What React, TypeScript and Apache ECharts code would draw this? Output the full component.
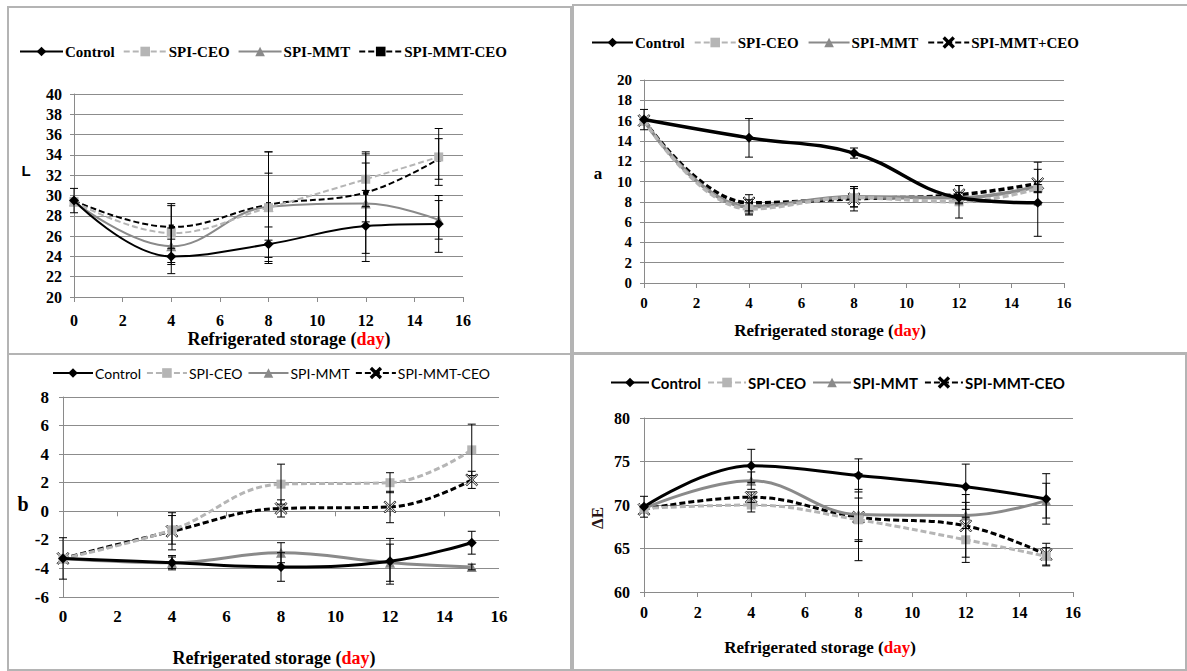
import React, { useEffect, useRef } from "react";
import * as echarts from "echarts";

// ---------- data ----------
const DAYS = [0, 4, 8, 12, 15];
const NAMES_1 = ["Control", "SPI-CEO", "SPI-MMT", "SPI-MMT-CEO"];
const NAMES_2 = ["Control", "SPI-CEO", "SPI-MMT", "SPI-MMT+CEO"];

// L
const L_CONTROL = [29.5, 24.0, 25.2, 27.0, 27.2];
const L_CONTROL_ERR = [1.2, 1.7, 1.7, 3.5, 2.8];
const L_CEO = [29.4, 26.3, 28.8, 31.6, 33.8];
const L_CEO_ERR = [0, 2.9, 5.5, 2.7, 2.8];
const L_MMT = [29.4, 25.0, 28.9, 29.2, 27.6];
const L_MMT_ERR = [0, 1.8, 3.3, 4.9, 1.9];
const L_MMTCEO = [29.5, 26.9, 29.1, 30.3, 33.6];
const L_MMTCEO_ERR = [0, 2.1, 5.2, 2.9, 2.0];

// a
const A_CONTROL = [16.1, 14.3, 12.8, 8.4, 7.9];
const A_CONTROL_ERR = [1.0, 1.9, 0.5, 0, 3.3];
const A_CEO = [16.0, 7.3, 8.4, 8.0, 9.3];
const A_CEO_ERR = [0, 0.6, 0.9, 1.6, 0.4];
const A_MMT = [16.0, 7.5, 8.5, 8.4, 9.5];
const A_MMT_ERR = [0, 0.7, 1.0, 0.5, 0.5];
const A_MMTCEO = [16.0, 7.9, 8.3, 8.7, 9.8];
const A_MMTCEO_ERR = [0, 0.8, 1.2, 0.9, 2.1];

// b
const B_CONTROL = [-3.3, -3.6, -3.9, -3.5, -2.2];
const B_CONTROL_ERR = [1.45, 0.5, 1.0, 1.6, 0.8];
const B_CEO = [-3.3, -1.3, 1.9, 2.0, 4.3];
const B_CEO_ERR = [0, 1.0, 1.4, 0.7, 1.8];
const B_MMT = [-3.3, -3.6, -2.9, -3.6, -3.9];
const B_MMT_ERR = [0, 0.4, 0.7, 1.3, 0.2];
const B_MMTCEO = [-3.3, -1.4, 0.2, 0.3, 2.2];
const B_MMTCEO_ERR = [0, 1.3, 0.6, 1.1, 0.6];

// ΔE
const E_CONTROL = [69.8, 74.5, 73.4, 72.1, 70.7];
const E_CONTROL_ERR = [1.2, 1.9, 1.9, 2.6, 2.9];
const E_CEO = [69.6, 70.0, 68.3, 66.0, 64.1];
const E_CEO_ERR = [0, 0.8, 2.5, 2.6, 1.0];
const E_MMT = [69.6, 72.8, 68.9, 68.8, 70.5];
const E_MMT_ERR = [0, 1.0, 2.9, 1.5, 2.0];
const E_MMTCEO = [69.5, 70.9, 68.6, 67.6, 64.3];
const E_MMTCEO_ERR = [0, 0.6, 5.0, 3.6, 1.3];

// ---------- styles ----------
const SERIF = "'Liberation Serif', 'Times New Roman', serif";
const SANS = "Lato, 'Liberation Sans', sans-serif";
const X_SYMBOL =
  "path://M1,0 L5,4 L9,0 L10,1 L6,5 L10,9 L9,10 L5,6 L1,10 L0,9 L4,5 L0,1 Z";

function styleOf(i: number, panel: number) {
  if (i === 0)
    return { color: "#000", symbol: "diamond", size: 10, fill: "#000", dashed: false };
  if (i === 1)
    return { color: "#b5b5b5", symbol: "rect", size: 9, fill: "#b5b5b5", dashed: true };
  if (i === 2)
    return { color: "#8a8a8a", symbol: "triangle", size: 10, fill: "#8a8a8a", dashed: false };
  if (panel === 1)
    return { color: "#000", symbol: "rect", size: 5, fill: "#000", dashed: true };
  return { color: "#000", symbol: X_SYMBOL, size: 12, fill: "#e0e0e0", dashed: true };
}

const renderErr = (params: any, api: any) => {
  const x = api.value(0);
  const lo = api.coord([x, api.value(1)]);
  const hi = api.coord([x, api.value(2)]);
  const cw = 4;
  const st = { stroke: "#000", lineWidth: 1 };
  return {
    type: "group",
    children: [
      { type: "line", shape: { x1: lo[0], y1: lo[1], x2: hi[0], y2: hi[1] }, style: st },
      { type: "line", shape: { x1: hi[0] - cw, y1: hi[1], x2: hi[0] + cw, y2: hi[1] }, style: st },
      { type: "line", shape: { x1: lo[0] - cw, y1: lo[1], x2: lo[0] + cw, y2: lo[1] }, style: st },
    ],
  };
};

function buildOption(p: any) {
  const series: any[] = [];
  const errData: any[] = [];
  p.values.forEach((vals: number[], i: number) => {
    const s = styleOf(i, p.id);
    series.push({
      type: "line",
      name: p.names[i],
      data: DAYS.map((d, j) => [d, vals[j]]),
      smooth: 0.4,
      symbol: s.symbol,
      symbolSize: s.size,
      showAllSymbol: true,
      lineStyle: { color: s.color, width: p.lineWidth, type: s.dashed ? [6, 3] : "solid" },
      itemStyle: {
        color: s.fill,
        borderColor: s.symbol === X_SYMBOL ? "#000" : s.fill,
        borderWidth: s.symbol === X_SYMBOL ? 0.8 : 0,
      },
      z: 3 + (3 - i),
    });
    p.errors[i].forEach((e: number, j: number) => {
      if (e > 0) errData.push([DAYS[j], vals[j] - e, vals[j] + e]);
    });
  });
  series.push({
    type: "custom",
    name: "errors",
    data: errData,
    renderItem: renderErr,
    encode: { x: 0, y: [1, 2] },
    z: 10,
    silent: true,
  });

  const xAxisBase = {
    type: "value",
    min: 0,
    max: 16,
    interval: 2,
    splitLine: { show: false },
  };
  const labelStyle = {
    fontFamily: SERIF, fontWeight: "bold", fontSize: p.tickFont, color: "#000",
  };
  const xAxes: any[] = [];
  if (p.zeroAxis) {
    xAxes.push({
      ...xAxisBase,
      position: "bottom",
      axisLine: { show: false, onZero: false },
      axisTick: { show: false },
      axisLabel: { ...labelStyle, margin: p.xMargin },
    });
    xAxes.push({
      ...xAxisBase,
      position: "bottom",
      axisLine: { show: true, onZero: true, lineStyle: { color: "#8a8a8a", width: 1 } },
      axisTick: { show: true, length: 5, lineStyle: { color: "#8a8a8a" } },
      axisLabel: { show: false },
    });
  } else {
    xAxes.push({
      ...xAxisBase,
      axisLine: { show: true, onZero: false, lineStyle: { color: "#8a8a8a", width: 1 } },
      axisTick: { show: true, length: 5, lineStyle: { color: "#8a8a8a" } },
      axisLabel: { ...labelStyle, margin: p.xMargin },
    });
  }

  return {
    animation: false,
    backgroundColor: "transparent",
    grid: { left: p.grid[0], top: p.grid[1], width: p.grid[2], height: p.grid[3], containLabel: false },
    legend: {
      data: p.names,
      left: p.legend[0],
      top: p.legend[1],
      padding: 0,
      itemWidth: p.legendItemW,
      itemHeight: 12,
      itemGap: p.legendGap,
      selectedMode: false,
      textStyle: {
        fontFamily: p.legendFont,
        fontWeight: p.legendWeight,
        fontSize: p.legendSize,
        color: "#000",
        padding: [0, 0, 0, -3],
      },
    },
    xAxis: xAxes,
    yAxis: {
      type: "value",
      min: p.yMin,
      max: p.yMax,
      interval: p.yStep,
      axisLine: { show: true, lineStyle: { color: "#8a8a8a", width: 1 } },
      axisTick: { show: true, length: 4, lineStyle: { color: "#8a8a8a" } },
      splitLine: { show: true, lineStyle: { color: "#8c8c8c", width: 1 } },
      axisLabel: { ...labelStyle, margin: p.yMargin },
    },
    graphic: [
      {
        type: "text",
        x: p.title[0],
        y: p.title[1],
        style: {
          text: "{a|Refrigerated storage (}{r|day}{a|)}",
          align: "center",
          verticalAlign: "middle",
          rich: {
            a: { fontFamily: SERIF, fontWeight: "bold", fontSize: p.titleSize, fill: "#000" },
            r: { fontFamily: SERIF, fontWeight: "bold", fontSize: p.titleSize, fill: "#ff0000" },
          },
        },
      },
      {
        type: "text",
        x: p.yName[0],
        y: p.yName[1],
        rotation: p.yNameRot || 0,
        style: {
          text: p.yNameText,
          align: "center",
          verticalAlign: "middle",
          fontFamily: p.yNameFont,
          fontWeight: "bold",
          fontSize: p.yNameSize,
          fill: p.yNameColor || "#000",
        },
      },
    ],
    series,
  };
}

const PANELS = [
  {
    id: 1,
    box: [8, 7, 563, 347],
    border: { left: 7, top: 6, width: 565, height: 349 },
    names: NAMES_1,
    values: [L_CONTROL, L_CEO, L_MMT, L_MMTCEO],
    errors: [L_CONTROL_ERR, L_CEO_ERR, L_MMT_ERR, L_MMTCEO_ERR],
    grid: [66, 87, 389, 203],
    yMin: 20, yMax: 40, yStep: 2,
    lineWidth: 2,
    tickFont: 16, xMargin: 15, yMargin: 12,
    legend: [11, 37], legendItemW: 43, legendGap: 8,
    legendFont: SERIF, legendWeight: "bold", legendSize: 15,
    title: [281, 332], titleSize: 18,
    yName: [18, 163], yNameText: "L", yNameFont: "'Liberation Sans', sans-serif", yNameSize: 15,
  },
  {
    id: 2,
    box: [573, 6, 614, 347],
    border: { left: 572, top: 4, width: 620, height: 350 },
    names: NAMES_2,
    values: [A_CONTROL, A_CEO, A_MMT, A_MMTCEO],
    errors: [A_CONTROL_ERR, A_CEO_ERR, A_MMT_ERR, A_MMTCEO_ERR],
    grid: [71, 74, 420, 203],
    yMin: 0, yMax: 20, yStep: 2,
    lineWidth: 3.5,
    tickFont: 15, xMargin: 12, yMargin: 12,
    legend: [18, 29], legendItemW: 41, legendGap: 9,
    legendFont: SERIF, legendWeight: "bold", legendSize: 15,
    title: [257, 324], titleSize: 17,
    yName: [25, 167], yNameText: "a", yNameFont: SERIF, yNameSize: 17,
  },
  {
    id: 3,
    box: [8, 355, 563, 316],
    border: { left: 7, top: 353, width: 565, height: 318 },
    names: NAMES_1,
    values: [B_CONTROL, B_CEO, B_MMT, B_MMTCEO],
    errors: [B_CONTROL_ERR, B_CEO_ERR, B_MMT_ERR, B_MMTCEO_ERR],
    grid: [55, 42, 436, 200],
    yMin: -6, yMax: 8, yStep: 2,
    lineWidth: 3,
    zeroAxis: true,
    tickFont: 17, xMargin: 11, yMargin: 14,
    legend: [44, 11], legendItemW: 40, legendGap: 5,
    legendFont: SANS, legendWeight: "normal", legendSize: 14,
    title: [266, 303], titleSize: 18,
    yName: [15, 149], yNameText: "b", yNameFont: SERIF, yNameSize: 20,
  },
  {
    id: 4,
    box: [573, 355, 614, 316],
    border: { left: 572, top: 353, width: 615, height: 318 },
    names: NAMES_1,
    values: [E_CONTROL, E_CEO, E_MMT, E_MMTCEO],
    errors: [E_CONTROL_ERR, E_CEO_ERR, E_MMT_ERR, E_MMTCEO_ERR],
    grid: [71, 63, 429, 174],
    yMin: 60, yMax: 80, yStep: 5,
    lineWidth: 3,
    tickFont: 16, xMargin: 12, yMargin: 14,
    legend: [37, 20], legendItemW: 38, legendGap: 6,
    legendFont: SANS, legendWeight: "bold", legendSize: 15,
    title: [247, 292], titleSize: 17,
    yName: [24, 163], yNameText: "ΔE", yNameFont: SERIF, yNameSize: 17, yNameRot: Math.PI / 2,
    yNameColor: "#2a1414",
  },
];

function ChartPanel({ panel }: { panel: any }) {
  const ref = useRef<HTMLDivElement>(null);
  useEffect(() => {
    if (!ref.current) return;
    const chart = echarts.init(ref.current, undefined, { renderer: "svg" });
    chart.setOption(buildOption(panel));
    return () => chart.dispose();
  }, [panel]);
  const [x, y, w, h] = panel.box;
  return (
    <>
      <div
        ref={ref}
        style={{ position: "absolute", left: x, top: y, width: w, height: h }}
      />
      <div
        style={{
          position: "absolute",
          left: panel.border.left,
          top: panel.border.top,
          width: panel.border.width,
          height: panel.border.height,
          boxSizing: "border-box",
          border: "2px solid #b4b4b4",
          borderRight: panel.id === 2 ? "none" : "2px solid #b4b4b4",
          pointerEvents: "none",
        }}
      />
    </>
  );
}

export default function App() {
  return (
    <div
      style={{
        position: "absolute",
        left: 0,
        top: 0,
        width: 1187,
        height: 671,
        overflow: "hidden",
        background: "#fff",
      }}
    >
      {PANELS.map((p) => (
        <ChartPanel key={p.id} panel={p} />
      ))}
    </div>
  );
}
